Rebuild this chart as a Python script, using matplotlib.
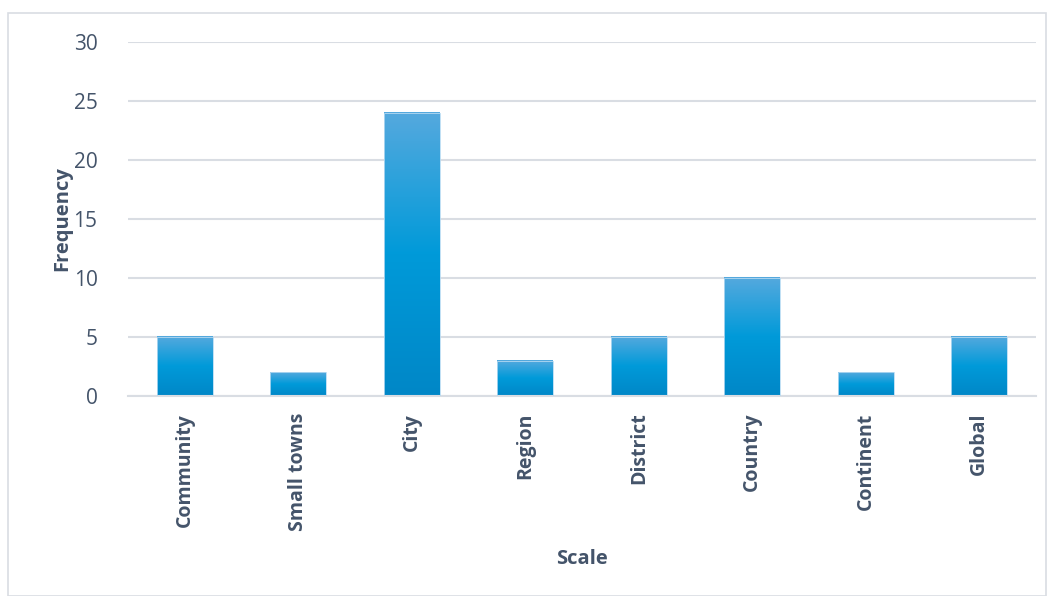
import matplotlib
matplotlib.use("Agg")
import matplotlib.pyplot as plt
import numpy as np
from matplotlib.colors import LinearSegmentedColormap
from matplotlib.patches import Rectangle

categories = ["Community", "Small towns", "City", "Region", "District", "Country", "Continent", "Global"]
values = [5, 2, 24, 3, 5, 10, 2, 5]
yticks = [0, 5, 10, 15, 20, 25, 30]

txt = "#44546a"
plt.rcParams['font.family'] = ['Open Sans', 'DejaVu Sans']

fig = plt.figure(figsize=(10.56, 5.96), dpi=100)
fig.patches.append(Rectangle((8/1056, 0), 1038/1056, 1 - 13/596, transform=fig.transFigure,
                             fill=False, edgecolor="#d9dde3", linewidth=1.2))
ax = fig.add_axes([128/1056, 1 - 396/596, 908/1056, 354/596])

cmap = LinearSegmentedColormap.from_list("g", [(0, "#0087c7"), (0.5, "#009ad9"), (1.0, "#55a9de")])
grad = np.linspace(0, 1, 256).reshape(-1, 1)
width = 0.49
x = np.arange(len(categories))
bars = ax.bar(x, values, width=width, color="none", edgecolor="#b5daf2", linewidth=0.6, zorder=3)
for b in bars:
    x0, y0 = b.get_x(), b.get_y()
    ax.imshow(grad, cmap=cmap, origin="lower", aspect="auto",
              extent=[x0, x0 + b.get_width(), y0, y0 + b.get_height()], zorder=2)

ax.set_xlim(-0.5, len(categories) - 0.5)
ax.set_ylim(0, 30)
ax.set_yticks(yticks)
ax.yaxis.grid(True, color="#d9dde3", linewidth=1.5, zorder=0)
ax.set_axisbelow(True)
for s in ["top", "right", "left"]:
    ax.spines[s].set_visible(False)
ax.spines["bottom"].set_color("#d9dde3")
ax.spines["bottom"].set_linewidth(1.5)
ax.tick_params(axis="both", length=0, colors=txt)
ax.tick_params(axis="y", labelsize=15, pad=22)
ax.set_xticks(x)
ax.set_xticklabels(categories, rotation=90, fontsize=14, fontweight="bold", color=txt)
ax.tick_params(axis="x", pad=12)
for lbl in ax.get_yticklabels():
    lbl.set_color(txt)
ax.set_xlabel("Scale", fontsize=14.5, fontweight="bold", color=txt, labelpad=13)
ax.set_ylabel("Frequency", fontsize=14.5, fontweight="bold", color=txt, labelpad=1)

fig.savefig("out.png", dpi=100)
